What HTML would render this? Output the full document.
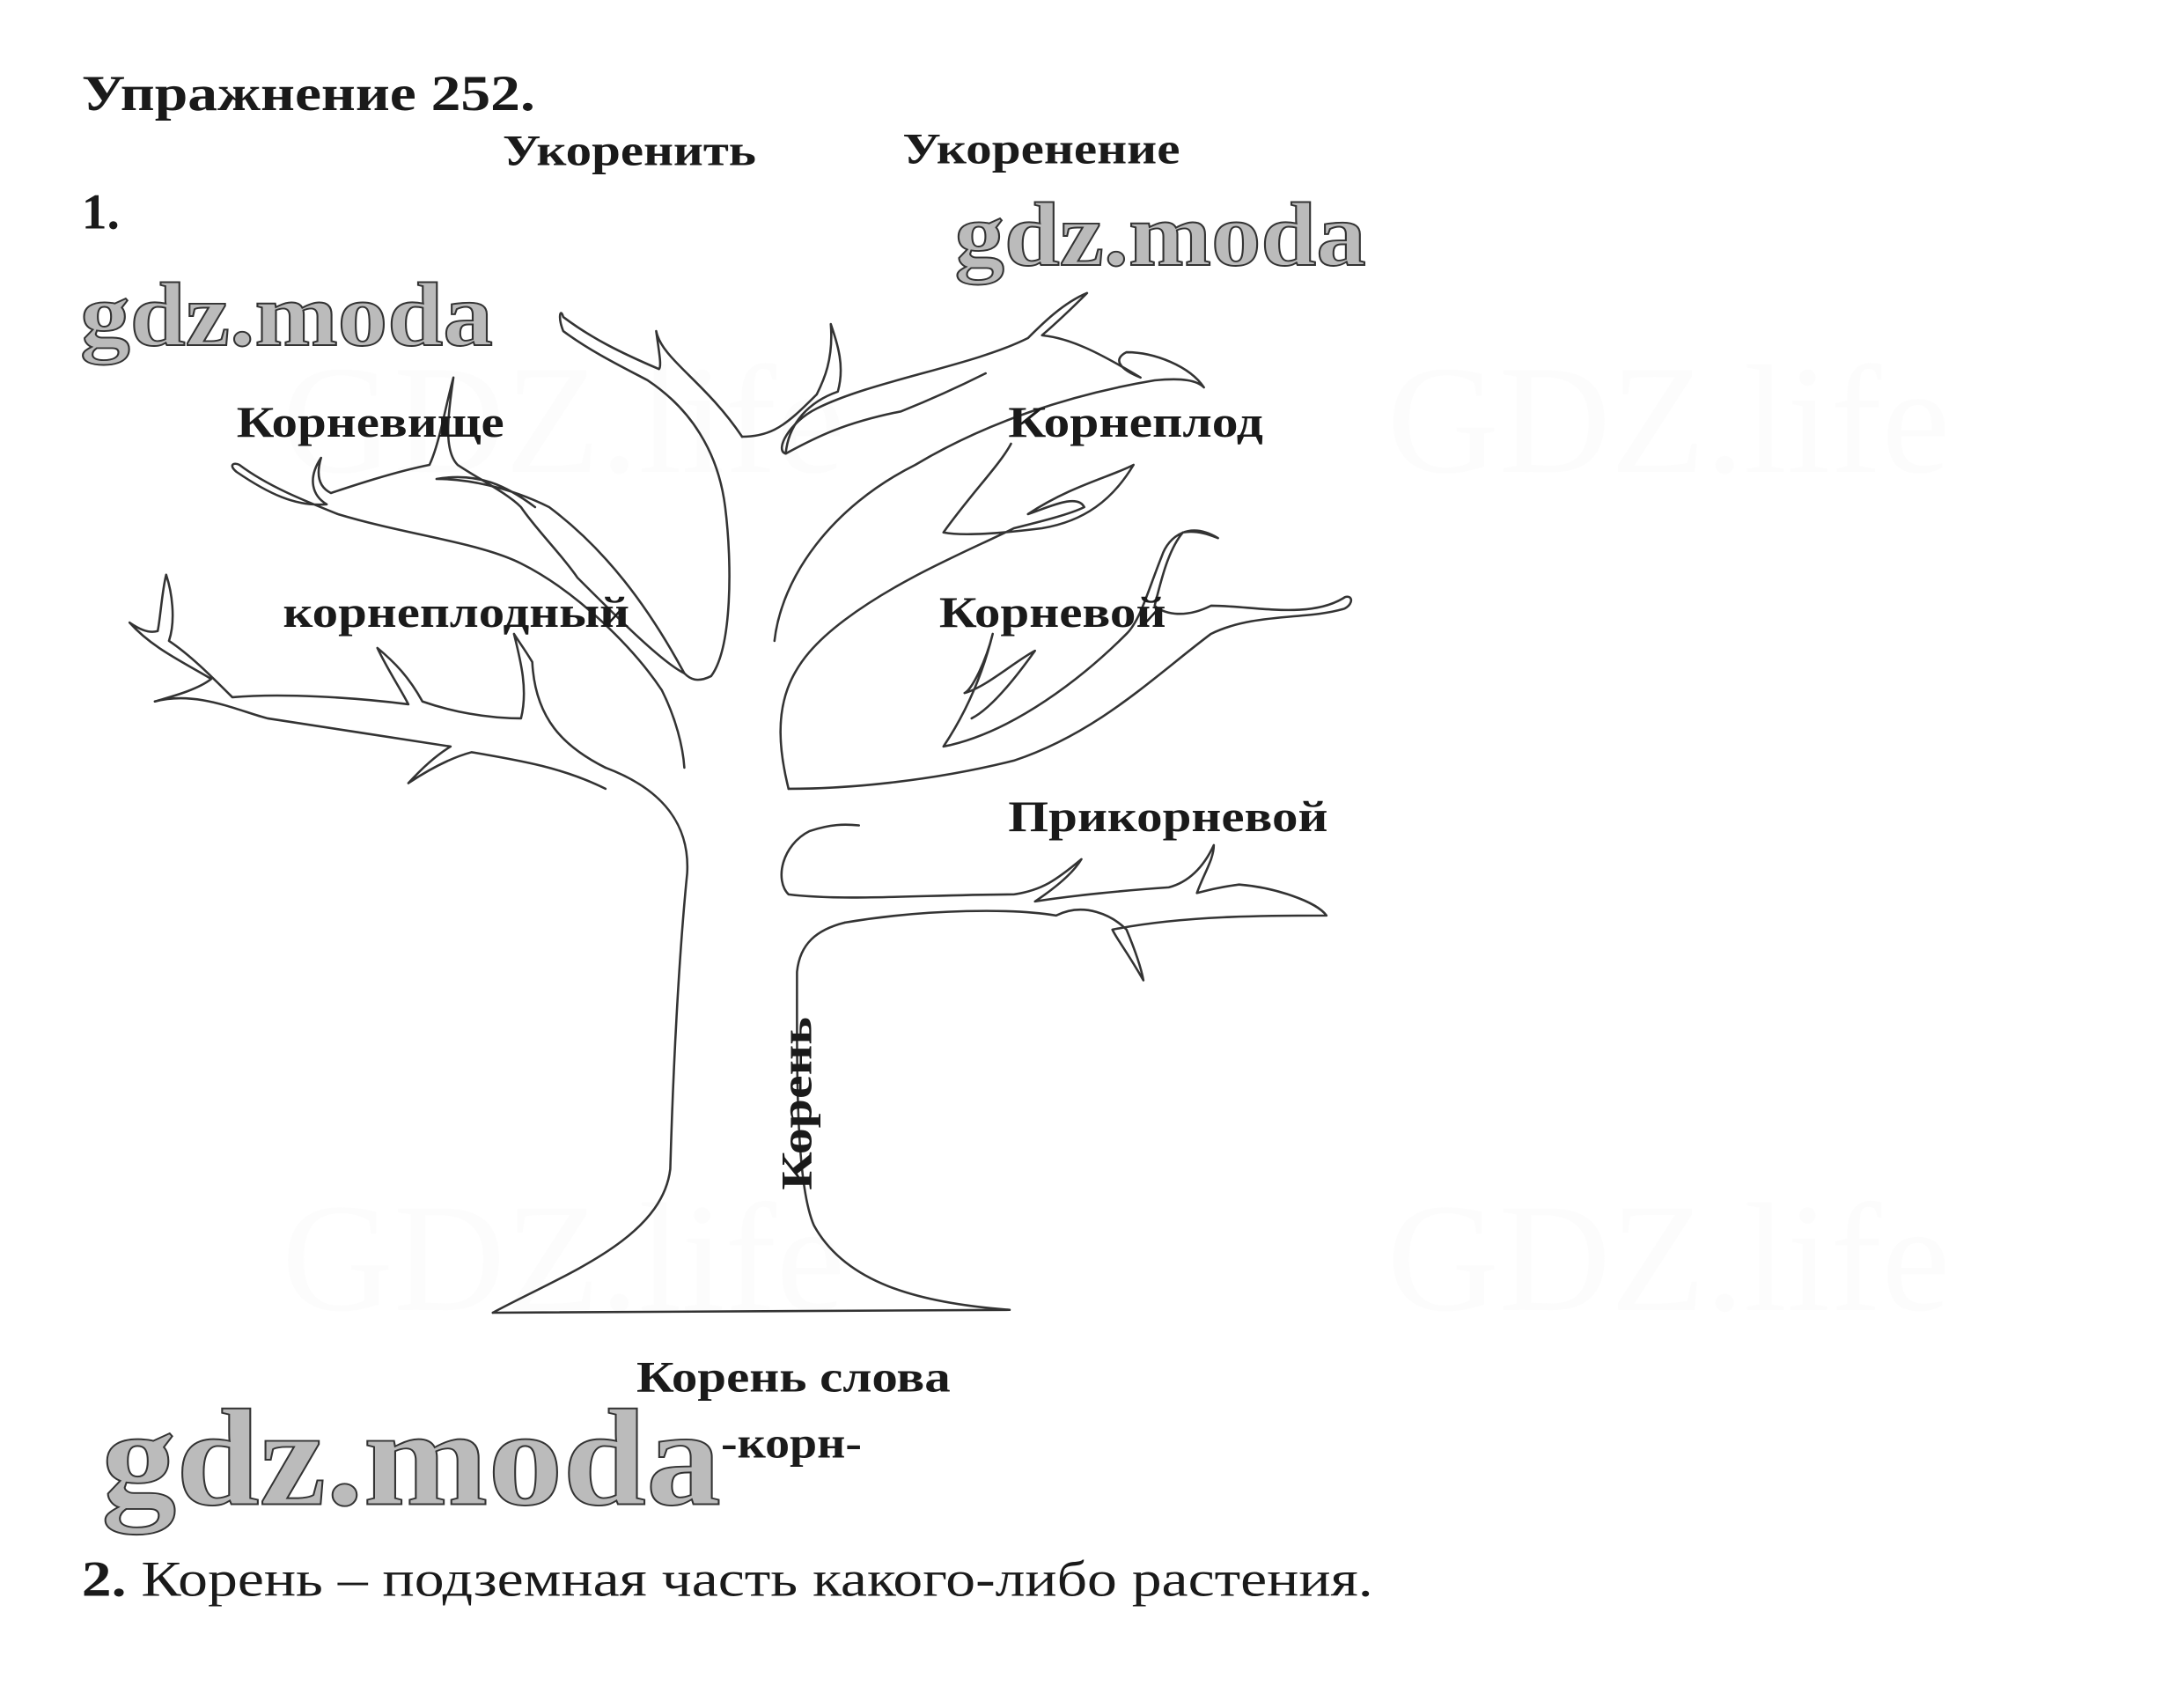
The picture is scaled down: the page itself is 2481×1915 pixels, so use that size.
<!DOCTYPE html>
<html><head><meta charset="utf-8"><style>
html,body{margin:0;padding:0;background:#fff;}
svg{display:block;}
text{font-family:"Liberation Serif","DejaVu Serif",serif;fill:#1a1a1a;}
.b{font-weight:bold;}
.wm{font-family:"Liberation Serif",serif;font-weight:bold;fill:#bbb;stroke:#333;stroke-width:1.2;}
.t{fill:none;stroke:#333;stroke-width:1.6;stroke-linecap:round;stroke-linejoin:round;}
</style></head><body>
<svg width="2481" height="1915" viewBox="0 0 1551 1197" xmlns="http://www.w3.org/2000/svg">
<rect width="1551" height="1197" fill="#fff"/>
<g opacity="0.02" font-size="110">
<text x="200" y="335" style="fill:#999">GDZ.life</text>
<text x="985" y="335" style="fill:#999">GDZ.life</text>
<text x="200" y="930" style="fill:#999">GDZ.life</text>
<text x="985" y="930" style="fill:#999">GDZ.life</text>
</g>
<g class="t">
<path d="M350,932 L717,930"/>
<path d="M350,932 C400,905 470,880 476,830 C478,760 482,680 488,620 C490,585 470,560 430,545"/>
<path d="M717,930 C650,925 600,910 578,870 C565,840 566,760 566,690 C568,670 580,660 600,655"/>
<path d="M600,655 C660,645 720,645 750,650 C770,640 790,650 800,660 C805,672 810,685 812,696 C800,675 792,665 790,660 C840,650 900,650 942,650 C935,640 905,630 880,628 C865,630 858,632 850,634 C855,620 862,610 862,600 C855,615 845,626 830,630 C800,632 760,636 735,640 C750,630 762,620 768,610 C750,625 740,632 720,635 C660,635 600,640 560,635 C550,625 555,600 575,590 C590,585 600,585 610,586"/>
<path d="M560,560 C545,500 560,470 600,440 C640,410 690,390 720,375 C740,370 760,365 770,360 C765,350 745,360 730,365 C760,345 790,338 805,330 C790,355 770,370 740,375 C700,380 680,380 670,378 C690,350 710,330 718,315"/>
<path d="M560,560 C600,560 660,555 720,540 C780,520 820,480 860,450 C890,435 930,440 955,432 C962,428 960,422 955,424 C930,440 890,430 860,430 C840,440 825,435 820,430 C825,410 830,390 840,378 C850,376 860,380 865,382 C845,370 830,380 825,395 C815,420 810,440 800,450 C770,480 720,520 670,530 C690,500 700,470 705,450 C700,470 690,490 685,492 C700,488 720,470 735,462 C715,490 700,505 690,510"/>
<path d="M550,455 C555,410 590,360 650,330 C700,300 760,280 820,270 C840,268 850,270 855,275 C845,260 820,250 800,250 C790,255 795,262 810,268 C780,250 760,240 740,238 C755,225 765,215 772,208 C755,215 740,230 730,240 C690,260 620,270 580,290 C560,300 550,320 558,322 C580,310 600,300 640,292 C670,280 690,270 700,265"/>
<path d="M558,322 C560,300 575,285 595,278 C600,260 595,245 590,230 C592,255 585,270 580,280 C570,290 560,300 550,305 C540,310 530,310 527,310"/>
<path d="M527,310 C500,270 470,255 466,235 C468,250 470,260 468,262 C440,250 420,240 400,225 C398,218 396,225 400,235 C420,250 445,262 460,270 C490,290 510,320 515,360 C520,400 520,460 505,480 C495,485 490,482 486,478 C460,430 430,390 390,360 C360,345 330,340 310,340 C340,335 360,345 380,360"/>
<path d="M486,478 C470,470 440,440 410,410 C400,395 380,375 370,360 C360,350 340,340 325,330 C315,320 318,295 322,268 C316,290 312,315 305,330 C280,335 250,345 235,350 C225,345 225,335 228,325 C218,340 222,352 232,358 C210,360 190,350 168,335 C162,330 166,328 170,330 C190,345 215,355 240,365 C290,380 340,385 370,400 C410,420 450,460 470,490 C480,510 485,530 486,545"/>
<path d="M430,545 C400,530 380,510 378,470 C372,460 368,455 365,450 C370,470 375,490 370,510 C345,510 320,505 300,498 C290,480 280,470 268,460 C275,475 285,490 290,500 C250,495 200,492 165,495 C150,480 135,465 120,455 C125,440 122,420 118,408 C115,420 114,438 112,448 C105,450 98,446 92,442 C108,460 130,470 150,482 C140,490 120,495 110,498"/>
<path d="M110,498 C140,490 170,505 190,510 C230,516 280,524 320,530 C310,536 300,545 290,556 C305,546 320,538 335,534 C370,540 400,545 430,560"/>
</g>
<text class="wm" x="678" y="188" font-size="64" textLength="292" lengthAdjust="spacingAndGlyphs">gdz.moda</text>
<text class="wm" x="57" y="245" font-size="64" textLength="293" lengthAdjust="spacingAndGlyphs">gdz.moda</text>
<text class="wm" x="72" y="1068" font-size="98" textLength="440" lengthAdjust="spacingAndGlyphs">gdz.moda</text>
<text class="b" x="58" y="78" font-size="36" textLength="322" lengthAdjust="spacingAndGlyphs">Упражнение 252.</text>
<text class="b" x="357" y="117" font-size="31" textLength="180" lengthAdjust="spacingAndGlyphs">Укоренить</text>
<text class="b" x="641" y="116" font-size="31" textLength="197" lengthAdjust="spacingAndGlyphs">Укоренение</text>
<text class="b" x="58" y="162" font-size="36">1.</text>
<text class="b" x="168" y="310" font-size="31" textLength="190" lengthAdjust="spacingAndGlyphs">Корневище</text>
<text class="b" x="716" y="310" font-size="31" textLength="181" lengthAdjust="spacingAndGlyphs">Корнеплод</text>
<text class="b" x="201" y="445" font-size="31" textLength="246" lengthAdjust="spacingAndGlyphs">корнеплодный</text>
<text class="b" x="667" y="445" font-size="31" textLength="161" lengthAdjust="spacingAndGlyphs">Корневой</text>
<text class="b" x="716" y="590" font-size="31" textLength="227" lengthAdjust="spacingAndGlyphs">Прикорневой</text>
<text class="b" x="0" y="0" font-size="31" textLength="123" lengthAdjust="spacingAndGlyphs" transform="translate(576,845) rotate(-90)">Корень</text>
<text class="b" x="452" y="988" font-size="31" textLength="223" lengthAdjust="spacingAndGlyphs">Корень слова</text>
<text class="b" x="512" y="1035" font-size="31" textLength="100" lengthAdjust="spacingAndGlyphs">-корн-</text>
<text x="58" y="1133" font-size="36" textLength="917" lengthAdjust="spacingAndGlyphs"><tspan class="b">2.</tspan> Корень – подземная часть какого-либо растения.</text>
</svg>
</body></html>
